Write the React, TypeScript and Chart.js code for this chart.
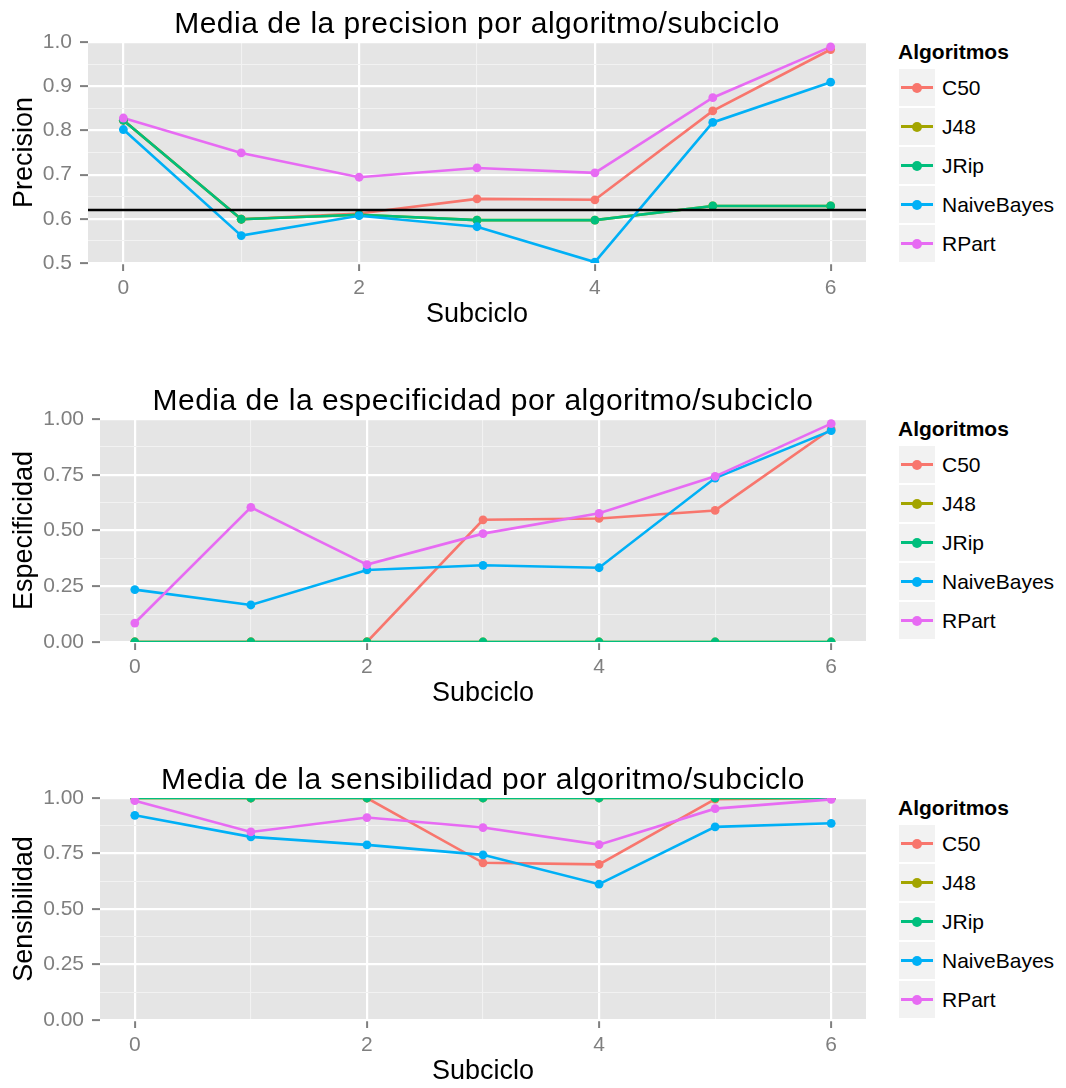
import React, { useEffect, useRef } from "react";
import { Chart, registerables } from "chart.js";

Chart.register(...registerables);

// ---------- data ----------
const SUBCICLOS = [0, 1, 2, 3, 4, 5, 6];
const ALGORITMOS = ["C50", "J48", "JRip", "NaiveBayes", "RPart"];
const COLORES = ["#F8766D", "#A3A500", "#00BF7D", "#00B0F6", "#E76BF3"];

const PRECISION_C50 = [0.823, 0.599, 0.612, 0.645, 0.643, 0.844, 0.983];
const PRECISION_J48 = [0.823, 0.599, 0.609, 0.597, 0.597, 0.629, 0.629];
const PRECISION_JRIP = [0.823, 0.599, 0.609, 0.597, 0.597, 0.629, 0.629];
const PRECISION_NB = [0.802, 0.562, 0.607, 0.582, 0.502, 0.818, 0.909];
const PRECISION_RPART = [0.828, 0.749, 0.694, 0.715, 0.704, 0.874, 0.989];
const PRECISION_REFERENCIA = 0.62;

const ESPECIFICIDAD_C50 = [0, 0, 0, 0.548, 0.554, 0.59, 0.955];
const ESPECIFICIDAD_J48 = [0, 0, 0, 0, 0, 0, 0];
const ESPECIFICIDAD_JRIP = [0, 0, 0, 0, 0, 0, 0];
const ESPECIFICIDAD_NB = [0.235, 0.166, 0.323, 0.344, 0.333, 0.735, 0.948];
const ESPECIFICIDAD_RPART = [0.085, 0.604, 0.347, 0.486, 0.577, 0.743, 0.979];

const SENSIBILIDAD_C50 = [1, 1, 1, 0.708, 0.701, 0.995, 1];
const SENSIBILIDAD_J48 = [1, 1, 1, 1, 1, 1, 1];
const SENSIBILIDAD_JRIP = [1, 1, 1, 1, 1, 1, 1];
const SENSIBILIDAD_NB = [0.922, 0.825, 0.789, 0.744, 0.612, 0.87, 0.886];
const SENSIBILIDAD_RPART = [0.988, 0.847, 0.912, 0.867, 0.79, 0.952, 0.994];

const X_MAJOR = [0, 2, 4, 6];
const X_MAJOR_LABELS = ["0", "2", "4", "6"];
const X_LIMITS = [-0.3, 6.3];

const PREC_MAJOR = [0.5, 0.6, 0.7, 0.8, 0.9, 1.0];
const PREC_LABELS = ["0.5", "0.6", "0.7", "0.8", "0.9", "1.0"];
const UNIT_MAJOR = [0, 0.25, 0.5, 0.75, 1.0];
const UNIT_LABELS = ["0.00", "0.25", "0.50", "0.75", "1.00"];

// ---------- style ----------
const FONT = '"Liberation Sans", Arial, Helvetica, sans-serif';
const PANEL_BG = "#E5E5E5";
const MINOR_GRID = "#F2F2F2";
const AXIS_GREY = "#7F7F7F";
const CANVAS_W = 880;
const PLOT_TOP = 42;
const X_AXIS_H = 68;

type Panel = {
  title: string;
  yTitle: string;
  series: number[][];
  yMajor: number[];
  yLabels: string[];
  hline: number | null;
  top: number;
  plotH: number;
  yAxisWidth: number;
};

const PANELS: Panel[] = [
  {
    title: "Media de la precision por algoritmo/subciclo",
    yTitle: "Precision",
    series: [PRECISION_C50, PRECISION_J48, PRECISION_JRIP, PRECISION_NB, PRECISION_RPART],
    yMajor: PREC_MAJOR,
    yLabels: PREC_LABELS,
    hline: PRECISION_REFERENCIA,
    top: 0,
    plotH: 221,
    yAxisWidth: 88,
  },
  {
    title: "Media de la especificidad por algoritmo/subciclo",
    yTitle: "Especificidad",
    series: [ESPECIFICIDAD_C50, ESPECIFICIDAD_J48, ESPECIFICIDAD_JRIP, ESPECIFICIDAD_NB, ESPECIFICIDAD_RPART],
    yMajor: UNIT_MAJOR,
    yLabels: UNIT_LABELS,
    hline: null,
    top: 377,
    plotH: 223,
    yAxisWidth: 100,
  },
  {
    title: "Media de la sensibilidad por algoritmo/subciclo",
    yTitle: "Sensibilidad",
    series: [SENSIBILIDAD_C50, SENSIBILIDAD_J48, SENSIBILIDAD_JRIP, SENSIBILIDAD_NB, SENSIBILIDAD_RPART],
    yMajor: UNIT_MAJOR,
    yLabels: UNIT_LABELS,
    hline: null,
    top: 756,
    plotH: 222,
    yAxisWidth: 100,
  },
];

function withMinors(major: number[]): number[] {
  const out: number[] = [];
  for (let i = 0; i < major.length; i++) {
    out.push(major[i]);
    if (i < major.length - 1) out.push((major[i] + major[i + 1]) / 2);
  }
  return out;
}

function isIn(arr: number[], v: number): number {
  return arr.findIndex((m) => Math.abs(m - v) < 1e-9);
}

function PanelChart({ panel }: { panel: Panel }) {
  const ref = useRef<HTMLCanvasElement | null>(null);
  const canvasH = PLOT_TOP + panel.plotH + X_AXIS_H;

  useEffect(() => {
    if (!ref.current) return;
    const xAll = withMinors(X_MAJOR);
    const yAll = withMinors(panel.yMajor);

    const lineSets = panel.series.map((vals, i) => ({
      label: ALGORITMOS[i],
      data: SUBCICLOS.map((x, j) => ({ x, y: vals[j] })),
      borderColor: COLORES[i],
      backgroundColor: COLORES[i],
      borderWidth: 2.6,
      pointRadius: 0,
      showLine: true,
      fill: false,
      tension: 0,
      clip: 0,
      order: 100 - i,
    }));
    const pointSets = panel.series.map((vals, i) => ({
      label: ALGORITMOS[i] + "_pts",
      data: SUBCICLOS.map((x, j) => ({ x, y: vals[j] })),
      borderColor: COLORES[i],
      backgroundColor: COLORES[i],
      pointBackgroundColor: COLORES[i],
      pointBorderWidth: 0,
      pointRadius: 4.4,
      showLine: false,
      clip: 0,
      order: 50 - i,
    }));

    const decor = {
      id: "decor",
      beforeDraw(chart: any) {
        const { ctx, chartArea: a } = chart;
        ctx.save();
        ctx.fillStyle = PANEL_BG;
        ctx.fillRect(a.left, a.top, a.right - a.left, a.bottom - a.top);
        ctx.restore();
      },
      afterDatasetsDraw(chart: any) {
        if (panel.hline === null) return;
        const { ctx, chartArea: a } = chart;
        const y = chart.scales.y.getPixelForValue(panel.hline);
        ctx.save();
        ctx.strokeStyle = "#000000";
        ctx.lineWidth = 2.6;
        ctx.beginPath();
        ctx.moveTo(a.left, y);
        ctx.lineTo(a.right, y);
        ctx.stroke();
        ctx.restore();
      },
      afterDraw(chart: any) {
        const { ctx, chartArea: a } = chart;
        ctx.save();
        ctx.font = `30px ${FONT}`;
        (ctx as any).letterSpacing = "0.5px";
        ctx.fillStyle = "#000000";
        ctx.textAlign = "center";
        ctx.textBaseline = "alphabetic";
        ctx.fillText(panel.title, (a.left + a.right) / 2, a.top - 9);
        (ctx as any).letterSpacing = "0px";
        ctx.restore();
      },
    };

    const chart = new Chart(ref.current, {
      type: "line",
      data: { datasets: [...pointSets, ...lineSets] as any },
      options: {
        animation: false,
        responsive: false,
        maintainAspectRatio: false,
        events: [],
        layout: { padding: { top: PLOT_TOP, right: CANVAS_W - 866, bottom: 0, left: 0 } },
        plugins: {
          legend: { display: false },
          tooltip: { enabled: false },
          title: { display: false },
        },
        scales: {
          x: {
            type: "linear",
            min: X_LIMITS[0],
            max: X_LIMITS[1],
            afterBuildTicks: (s: any) => {
              s.ticks = xAll.map((v) => ({ value: v }));
            },
            afterFit: (s: any) => {
              s.height = X_AXIS_H;
            },
            ticks: {
              autoSkip: false,
              maxRotation: 0,
              padding: 5,
              color: AXIS_GREY,
              font: { family: FONT, size: 21 },
              callback: (v: any) => {
                const k = isIn(X_MAJOR, Number(v));
                return k >= 0 ? X_MAJOR_LABELS[k] : "";
              },
            },
            grid: {
              color: (c: any) => (isIn(X_MAJOR, c.tick?.value) >= 0 ? "#FFFFFF" : MINOR_GRID),
              lineWidth: (c: any) => (isIn(X_MAJOR, c.tick?.value) >= 0 ? 2.2 : 1.1),
              tickColor: (c: any) => (isIn(X_MAJOR, c.tick?.value) >= 0 ? AXIS_GREY : "rgba(0,0,0,0)"),
              tickWidth: 2,
              tickLength: 8,
              drawTicks: true,
            },
            border: { display: false },
            title: {
              display: true,
              text: "Subciclo",
              color: "#000000",
              font: { family: FONT, size: 27 },
              padding: { top: 0, bottom: 0 },
            },
          },
          y: {
            type: "linear",
            min: panel.yMajor[0],
            max: panel.yMajor[panel.yMajor.length - 1],
            afterBuildTicks: (s: any) => {
              s.ticks = yAll.map((v) => ({ value: v }));
            },
            afterFit: (s: any) => {
              s.width = panel.yAxisWidth;
            },
            ticks: {
              autoSkip: false,
              padding: 8,
              color: AXIS_GREY,
              font: { family: FONT, size: 21 },
              callback: (v: any) => {
                const k = isIn(panel.yMajor, Number(v));
                return k >= 0 ? panel.yLabels[k] : "";
              },
            },
            grid: {
              color: (c: any) => (isIn(panel.yMajor, c.tick?.value) >= 0 ? "#FFFFFF" : MINOR_GRID),
              lineWidth: (c: any) => (isIn(panel.yMajor, c.tick?.value) >= 0 ? 2.2 : 1.1),
              tickColor: (c: any) => (isIn(panel.yMajor, c.tick?.value) >= 0 ? AXIS_GREY : "rgba(0,0,0,0)"),
              tickWidth: 2,
              tickLength: 8,
              drawTicks: true,
            },
            border: { display: false },
            title: {
              display: true,
              text: panel.yTitle,
              color: "#000000",
              font: { family: FONT, size: 27 },
              padding: { top: 8, bottom: 0 },
            },
          },
        },
      } as any,
      plugins: [decor],
    });
    return () => chart.destroy();
  }, [panel]);

  const plotTop = panel.top + PLOT_TOP;
  return (
    <>
      <canvas
        ref={ref}
        width={CANVAS_W}
        height={canvasH}
        style={{ position: "absolute", left: 0, top: panel.top, width: CANVAS_W, height: canvasH }}
      />
      <div
        style={{
          position: "absolute",
          left: 898,
          top: plotTop + 9.5 - 12,
          height: 24,
          lineHeight: "24px",
          fontSize: 21,
          fontWeight: "bold",
          color: "#000",
          whiteSpace: "nowrap",
        }}
      >
        Algoritmos
      </div>
      {ALGORITMOS.map((name, k) => (
        <React.Fragment key={name}>
          <div
            style={{
              position: "absolute",
              left: 899,
              top: plotTop + 27 + k * 39,
              width: 36,
              height: 37,
              background: MINOR_GRID,
            }}
          >
            <div
              style={{
                position: "absolute",
                left: 2,
                width: 32,
                top: 17,
                height: 3,
                background: COLORES[k],
              }}
            />
            <div
              style={{
                position: "absolute",
                left: 13,
                top: 13.5,
                width: 10,
                height: 10,
                borderRadius: "50%",
                background: COLORES[k],
              }}
            />
          </div>
          <div
            style={{
              position: "absolute",
              left: 942,
              top: plotTop + 27 + k * 39,
              height: 37,
              lineHeight: "37px",
              fontSize: 21,
              color: "#000",
              whiteSpace: "nowrap",
            }}
          >
            {name}
          </div>
        </React.Fragment>
      ))}
    </>
  );
}

export default function App() {
  return (
    <div
      style={{
        position: "absolute",
        left: 0,
        top: 0,
        width: 1066,
        height: 1088,
        overflow: "hidden",
        background: "#FFFFFF",
        fontFamily: FONT,
      }}
    >
      {PANELS.map((p) => (
        <PanelChart key={p.yTitle} panel={p} />
      ))}
    </div>
  );
}
